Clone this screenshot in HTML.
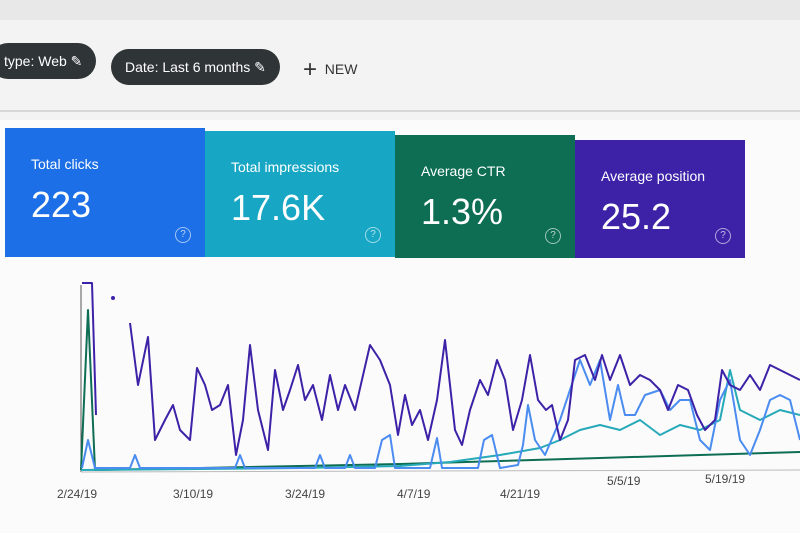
<!DOCTYPE html>
<html><head><style>
body{margin:0;width:800px;height:533px;overflow:hidden;background:#f3f3f3;font-family:"Liberation Sans",sans-serif;position:relative}
.pill{position:absolute;background:#2f3437;color:#fff;border-radius:20px;font-size:14px;line-height:36px;padding:0 14px}
.card{position:absolute;color:#fff}
.card .t{position:absolute;left:26px;top:28px;font-size:14px}
.card .v{position:absolute;left:26px;top:56px;font-size:36px}
.card .q{position:absolute;right:14px;bottom:14px;width:14px;height:14px;border:1.5px solid rgba(255,255,255,.6);border-radius:50%;font-size:10px;text-align:center;line-height:14px;color:rgba(255,255,255,.7)}
.lab{position:absolute;top:487px;font-size:12px;color:#444}
</style></head><body>
<div style="position:absolute;left:0;top:0;width:800px;height:20px;background:#e8e8e8"></div>
<div class="pill" style="left:-10px;top:43px">type: Web ✎</div>
<div class="pill" style="left:111px;top:49px">Date: Last 6 months ✎</div>
<div style="position:absolute;left:303px;top:56px;font-size:14px;color:#333"><span style="font-size:24px;vertical-align:-3px">+</span>&nbsp; NEW</div>
<div style="position:absolute;left:0;top:110px;width:800px;height:2px;background:#d8d8d8"></div>
<div style="position:absolute;left:0;top:120px;width:800px;height:413px;background:#fbfbfb"></div>
<div class="card" style="left:5px;top:128px;width:200px;height:129px;background:#1c6fe6"><div class="t">Total clicks</div><div class="v">223</div><div class="q">?</div></div>
<div class="card" style="left:205px;top:131px;width:190px;height:126px;background:#17a7c4"><div class="t">Total impressions</div><div class="v">17.6K</div><div class="q">?</div></div>
<div class="card" style="left:395px;top:135px;width:180px;height:123px;background:#0d6e54"><div class="t">Average CTR</div><div class="v">1.3%</div><div class="q">?</div></div>
<div class="card" style="left:575px;top:140px;width:170px;height:118px;background:#3d22a8"><div class="t">Average position</div><div class="v">25.2</div><div class="q">?</div></div>
<svg width="800" height="533" style="position:absolute;left:0;top:0" fill="none" stroke-width="2" stroke-linejoin="round">
<line x1="81" y1="285" x2="81" y2="472" stroke="#555" stroke-width="1"/>
<line x1="81" y1="472" x2="800" y2="470" stroke="#bbb" stroke-width="1"/>
<circle cx="113" cy="298" r="2" fill="#3d22a8" stroke="none"/>
<polyline stroke="#0d6e54" points="81,470 88,310 95,470 200,468 300,466 400,464 500,461 600,458 700,455 800,452"/>
<polyline stroke="#26a9b8" points="81,470 200,469 300,468 400,466 450,462 500,455 540,448 560,440 580,430 600,425 620,430 640,420 660,435 680,425 700,430 720,420 730,370 740,410 760,420 780,410 800,415"/>
<polyline stroke="#4a8cf0" points="82,468 88,440 95,468 130,468 135,455 140,468 235,468 240,455 245,468 315,468 320,455 325,468 345,468 350,455 355,468 375,468 382,440 390,435 395,468 430,468 437,438 442,468 478,468 484,440 492,435 500,468 518,465 523,445 528,405 535,440 545,455 560,420 570,390 580,360 590,385 600,360 610,420 618,385 625,415 635,415 645,395 660,390 670,410 680,400 690,400 700,440 710,450 720,400 730,380 740,440 750,455 760,430 770,400 780,395 790,400 800,440"/>
<polyline stroke="#3d22a8" points="82,283 92,283 96,415"/>
<polyline stroke="#3d22a8" points="130,323 138,385 148,337 155,440 165,420 173,405 180,430 190,440 197,368 205,385 212,410 220,405 228,385 236,455 243,420 250,345 258,410 268,450 275,370 283,410 290,390 298,365 305,400 313,385 322,420 330,375 338,410 345,385 355,410 370,345 380,360 390,385 398,435 405,395 412,425 420,410 428,440 437,400 445,340 455,430 462,445 470,410 480,380 488,395 497,360 505,380 513,430 522,400 530,355 538,400 546,410 552,405 560,440 568,420 575,360 585,355 595,380 602,355 610,380 620,355 630,385 640,375 650,380 660,390 668,410 678,385 688,390 697,415 705,430 715,420 722,370 730,385 740,390 750,375 760,390 770,365 780,370 790,375 800,380"/>
</svg>
<div class="lab" style="left:57px">2/24/19</div>
<div class="lab" style="left:173px">3/10/19</div>
<div class="lab" style="left:285px">3/24/19</div>
<div class="lab" style="left:397px">4/7/19</div>
<div class="lab" style="left:500px">4/21/19</div>
<div class="lab" style="left:607px;top:474px">5/5/19</div>
<div class="lab" style="left:705px;top:472px">5/19/19</div>
</body></html>
